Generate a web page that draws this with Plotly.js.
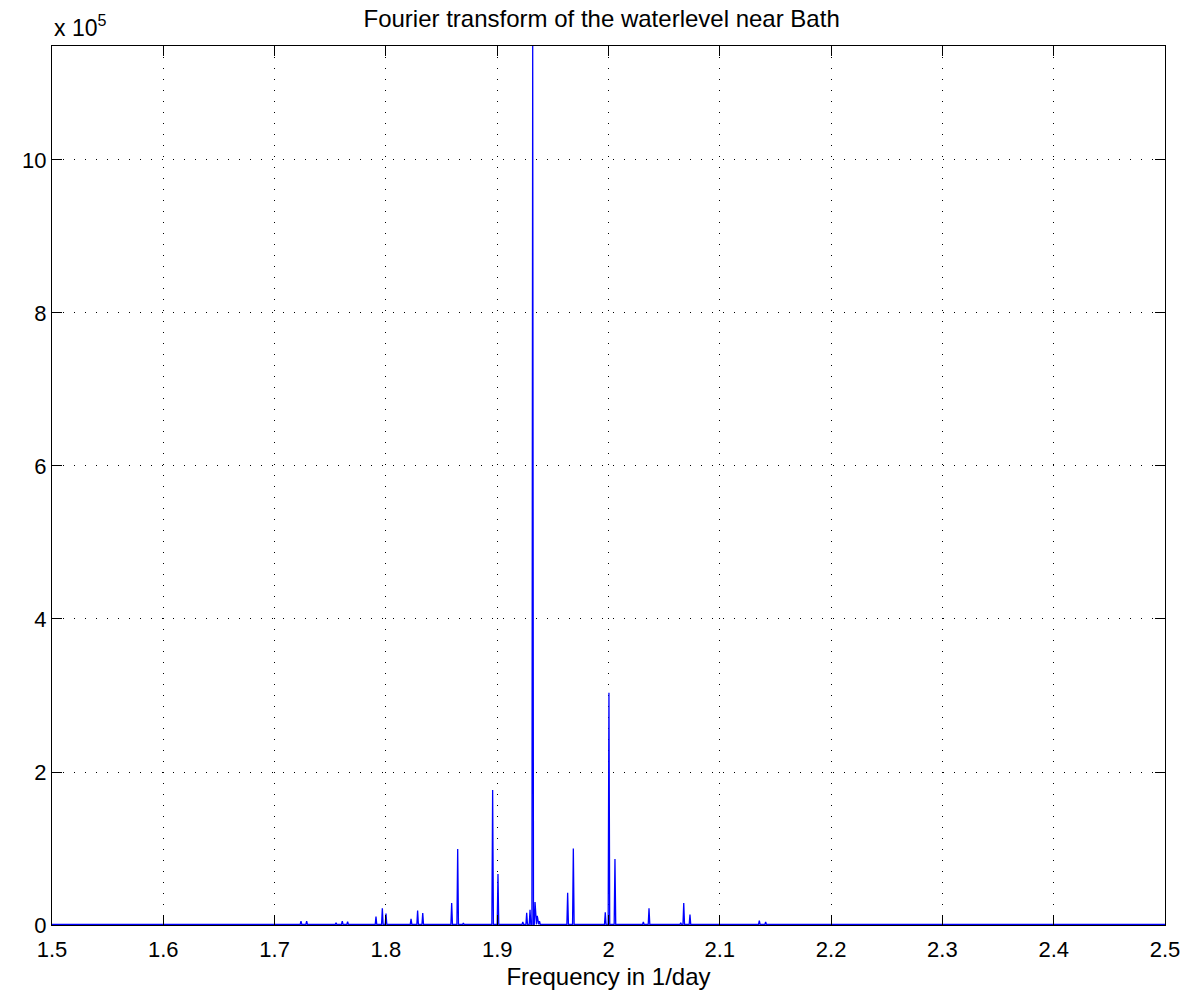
<!DOCTYPE html>
<html>
<head>
<meta charset="utf-8">
<script src="https://cdn.plot.ly/plotly-3.0.1.min.js"></script>
<style>html,body{margin:0;padding:0;background:#fff}#chart{width:1189px;height:994px}</style>
</head>
<body>
<div id="chart"></div>
<script>
// Peak frequencies (1/day) and amplitudes
const peakFreq = [1.7237, 1.7288, 1.7552, 1.7608, 1.7656, 1.7911, 1.7968, 1.8001,
  1.8226, 1.8285, 1.8331, 1.8591, 1.8645, 1.8696, 1.8959, 1.9007,
  1.9230, 1.9265, 1.9295, 1.9319, 1.9340, 1.9360, 1.9380,
  1.9633, 1.9684, 1.9971, 2.0004, 2.0058, 2.0313, 2.0364,
  2.0649, 2.0676, 2.0732, 2.1355, 2.1412];
const peakAmp = [5000, 5000, 3000, 5000, 4500, 11000, 22000, 15000,
  8000, 19000, 15700, 28700, 99300, 2500, 176500, 66700,
  4000, 16000, 20000, 1149000, 30000, 12000, 5000,
  42000, 100000, 16600, 303700, 86300, 4000, 22000,
  3000, 28700, 13500, 5600, 4000];
const freqRange = [1.5, 2.5];
const floorAmp = 700;
const yTickVals = [0, 200000, 400000, 600000, 800000, 1000000];
const yTickText = ['0', '2', '4', '6', '8', '10'];
const xTickVals = [1.5, 1.6, 1.7, 1.8, 1.9, 2.0, 2.1, 2.2, 2.3, 2.4, 2.5];
const xTickText = ['1.5', '1.6', '1.7', '1.8', '1.9', '2', '2.1', '2.2', '2.3', '2.4', '2.5'];

const halfWidth = 0.0007;
const xs = [freqRange[0]], ys = [floorAmp];
peakFreq.forEach((f, i) => {
  xs.push(f - halfWidth, f, f + halfWidth);
  ys.push(floorAmp, peakAmp[i], floorAmp);
});
xs.push(freqRange[1]); ys.push(floorAmp);

const FONT = 'Liberation Sans, Arial, sans-serif';
const axisCommon = {
  showline: true, linecolor: '#000', linewidth: 1, mirror: 'ticks',
  ticks: 'inside', ticklen: 10, tickcolor: '#000', tickwidth: 1,
  showgrid: true, gridcolor: '#000', gridwidth: 1, griddash: '1px,10px',
  zeroline: false,
  tickfont: {family: FONT, size: 22, color: '#000'}
};

const layout = {
  width: 1189, height: 994,
  margin: {l: 52, r: 24, t: 46, b: 69},
  paper_bgcolor: '#fff', plot_bgcolor: '#fff',
  showlegend: false,
  title: {text: 'Fourier transform of the waterlevel near Bath',
    font: {family: FONT, size: 24, color: '#000'},
    x: 0.506, xanchor: 'center', yref: 'container', y: 0.981, yanchor: 'middle'},
  xaxis: Object.assign({}, axisCommon, {
    range: freqRange, tickmode: 'array', tickvals: xTickVals, ticktext: xTickText,
    ticklabelstandoff: 5, automargin: false,
    title: {text: 'Frequency in 1/day', standoff: 6,
      font: {family: FONT, size: 24, color: '#000'}}
  }),
  yaxis: Object.assign({}, axisCommon, {
    range: [0, 1149000], tickmode: 'array', tickvals: yTickVals, ticktext: yTickText,
    automargin: false
  }),
  annotations: [{
    text: 'x 10<sup>5</sup>', xref: 'paper', yref: 'paper', x: 0, y: 1,
    xanchor: 'left', yanchor: 'bottom', yshift: 3, showarrow: false,
    font: {family: FONT, size: 23, color: '#000'}
  }]
};

Plotly.newPlot('chart', [{
  x: xs, y: ys, type: 'scatter', mode: 'lines',
  line: {color: '#0000ff', width: 1.3}, hoverinfo: 'x+y'
}], layout, {displayModeBar: false, staticPlot: true});
</script>
</body>
</html>
